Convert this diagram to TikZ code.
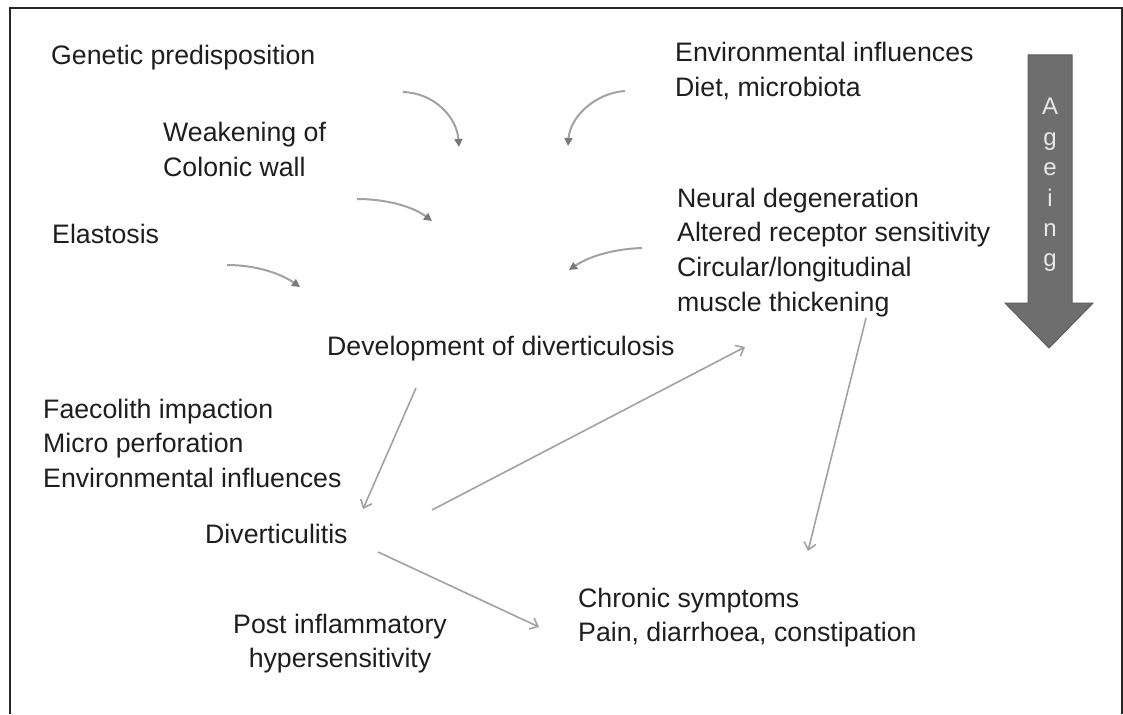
\documentclass[tikz,border=0pt]{standalone}
\usepackage{fontspec}
\setmainfont{Liberation Sans}
\usetikzlibrary{arrows.meta}
\definecolor{txt}{HTML}{1E1E1E}
\definecolor{arr}{HTML}{A2A2A2}
\definecolor{arrhead}{HTML}{7A7A7A}
\definecolor{agefill}{HTML}{6E6E6E}
\definecolor{ageline}{HTML}{5C5C5C}
\definecolor{agetxt}{HTML}{E8E8E8}
\newcommand\lstack[1]{\vtop{\halign{##\hfil\cr #1\crcr}}}
\newcommand\cstack[1]{\vtop{\halign{\hfil##\hfil\cr #1\crcr}}}
\begin{document}
\begin{tikzpicture}[x=1pt,y=-1pt,
  lbl/.style={anchor=base west, inner sep=0pt, text=txt, font=\fontsize{26.7}{34.7}\selectfont},
  curvearrow/.style={draw=arr, line width=2pt, -{Triangle[length=8pt,width=8pt,color=arrhead]}},
  straightarrow/.style={draw=arr, line width=1.6pt, -{Straight Barb[length=7pt,width=12pt]}},
  frame/.style={draw=black!85, line width=2pt}]
\useasboundingbox (0,0) rectangle (1123,714);
\fill[white] (0,0) rectangle (1123,714);
% frame (open at bottom)
\draw[frame] (9.5,714) |- (1121.5,8.5) -- (1121.5,714);

% texts
\node[lbl] (gen) at (51,65) {Genetic predisposition};
\node[lbl] (weak) at (163,142) {\lstack{Weakening of\cr Colonic wall}};
\node[lbl] (env) at (675,62) {\lstack{Environmental influences\cr Diet, microbiota}};
\node[lbl] (neur) at (677,207) {\lstack{Neural degeneration\cr Altered receptor sensitivity\cr Circular/longitudinal\cr muscle thickening}};
\node[lbl] (ela) at (52,243) {Elastosis};
\node[lbl] (dev) at (327,355) {Development of diverticulosis};
\node[lbl] (fae) at (43,418) {\lstack{Faecolith impaction\cr Micro perforation\cr Environmental influences}};
\node[lbl] (divi) at (205,543) {Diverticulitis};
\node[lbl] (post) at (233,633) {\cstack{Post inflammatory\cr hypersensitivity}};
\node[lbl] (chron) at (578,607) {\lstack{Chronic symptoms\cr Pain, diarrhoea, constipation}};

% ageing arrow
\filldraw[fill=agefill, draw=ageline, line width=1pt]
  (1028,55) -- (1072,55) -- (1072,303) -- (1093,303) -- (1049,348) -- (1005,303) -- (1028,303) -- cycle;
\node[anchor=base, inner sep=0pt, text=agetxt, font=\fontsize{24}{30.4}\selectfont] (age) at (1050,115) {\cstack{A\cr g\cr e\cr i\cr n\cr g}};

% coordinates for connector ends
\coordinate (c1s) at (403,92);  \coordinate (c1e) at (459,147);
\coordinate (c2s) at (625,91);  \coordinate (c2e) at (568,146);
\coordinate (c3s) at (357,199); \coordinate (c3e) at (432,221);
\coordinate (c4s) at (642,248); \coordinate (c4e) at (569,270);
\coordinate (c5s) at (227,265); \coordinate (c5e) at (300,287);
\coordinate (sAs) at (416,388); \coordinate (sAe) at (363,509);
\coordinate (sBs) at (432,510); \coordinate (sBe) at (745,347);
\coordinate (sCs) at (378,552); \coordinate (sCe) at (539,627);
\coordinate (sDs) at (866,318); \coordinate (sDe) at (808,551);

% curved arrows
\draw[curvearrow] (c1s) .. controls (435,93) and (457,118) .. (c1e);
\draw[curvearrow] (c2s) .. controls (595,93) and (570,117) .. (c2e);
\draw[curvearrow] (c3s) .. controls (385,199) and (412,206) .. (c3e);
\draw[curvearrow] (c4s) .. controls (612,249) and (588,257) .. (c4e);
\draw[curvearrow] (c5s) .. controls (255,265) and (280,273) .. (c5e);

% straight arrows
\draw[straightarrow] (sAs) -- (sAe);
\draw[straightarrow] (sBs) -- (sBe);
\draw[straightarrow] (sCs) -- (sCe);
\draw[straightarrow] (sDs) -- (sDe);
\end{tikzpicture}
\end{document}
